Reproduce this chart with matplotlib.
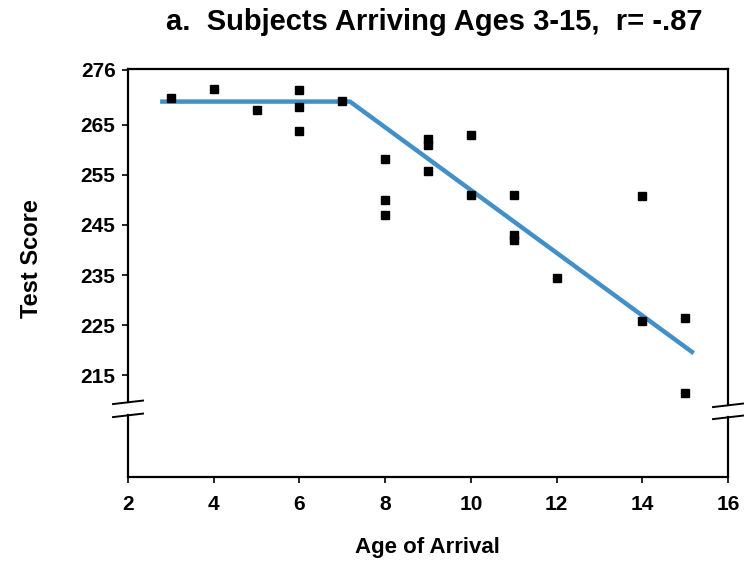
import matplotlib
matplotlib.use("Agg")
import matplotlib.pyplot as plt
import matplotlib.transforms as mtransforms

# Data
age = [3, 4, 5, 6, 6, 6, 7, 8, 8, 8, 9, 9, 9, 10, 10, 11, 11, 11, 12, 14, 14, 15, 15]
score = [270.4, 272.2, 268.0, 272.0, 268.6, 263.8, 269.8, 258.2, 250.0, 247.0,
         262.2, 261.0, 255.8, 263.0, 250.9, 251.0, 243.0, 242.0, 234.5, 250.7, 225.8, 226.4, 211.4]

fit_x = [2.75, 7.18, 15.2]
fit_y = [269.6, 269.6, 219.4]

x_ticks = [2, 4, 6, 8, 10, 12, 14, 16]
y_ticks = [215, 225, 235, 245, 255, 265, 276]

title = "a.  Subjects Arriving Ages 3-15,  r= -.87"
xlabel = "Age of Arrival"
ylabel = "Test Score"

plt.rcParams['font.family'] = ['Liberation Sans', 'DejaVu Sans']

fig = plt.figure(figsize=(7.56, 5.62), dpi=100)
ax = fig.add_axes([128/756, 1-477/562, 600/756, (477-69)/562])

ax.plot(fit_x, fit_y, color='#4390c8', lw=3.2, solid_capstyle='butt', zorder=2)
ax.plot(age, score, 's', color='black', ms=6, zorder=3, linestyle='none')

ax.set_xlim(2, 16)
ax.set_ylim(194.7, 276.1)
ax.set_xticks(x_ticks)
ax.set_xticklabels([str(t) for t in x_ticks])
ax.set_yticks(y_ticks)
ax.set_yticklabels([str(t) for t in y_ticks])

ax.tick_params(axis='both', which='both', direction='out', length=4, width=1.2,
               labelsize=15, colors='black')
ax.tick_params(axis='y', pad=5, right=False)
ax.tick_params(axis='x', pad=9, top=False)
for lab in ax.get_xticklabels() + ax.get_yticklabels():
    lab.set_fontweight('bold')

for s in ['bottom', 'top']:
    ax.spines[s].set_linewidth(1.6)
ax.spines['left'].set_visible(False)
ax.spines['right'].set_visible(False)

# Broken vertical spines
trans = mtransforms.blended_transform_factory(ax.transAxes, ax.transData)
lo, hi = 194.7, 276.1
ax.plot([0, 0], [lo, 207.0], color='black', lw=1.6, transform=trans, clip_on=False)
ax.plot([0, 0], [209.6, hi], color='black', lw=1.6, transform=trans, clip_on=False)
ax.plot([1, 1], [lo, 206.6], color='black', lw=1.6, transform=trans, clip_on=False)
ax.plot([1, 1], [209.0, hi], color='black', lw=1.6, transform=trans, clip_on=False)
dx = 15/600
for yb in (209.6, 207.0):
    ax.plot([-dx, dx], [yb - 0.35, yb + 0.35], color='black', lw=1.4,
            transform=trans, clip_on=False)
for yb in (209.0, 206.6):
    ax.plot([1 - dx, 1 + dx], [yb - 0.35, yb + 0.35], color='black', lw=1.4,
            transform=trans, clip_on=False)

fig.text(434/756, 1-22/562, title, ha='center', va='center', fontsize=21,
         fontweight='bold')
fig.text(427/756, 1-547/562, xlabel, ha='center', va='center', fontsize=16,
         fontweight='bold')
fig.text(32/756, 1-259/562, ylabel, ha='center', va='center', fontsize=17,
         fontweight='bold', rotation=90)

fig.savefig("out.png", dpi=100)
